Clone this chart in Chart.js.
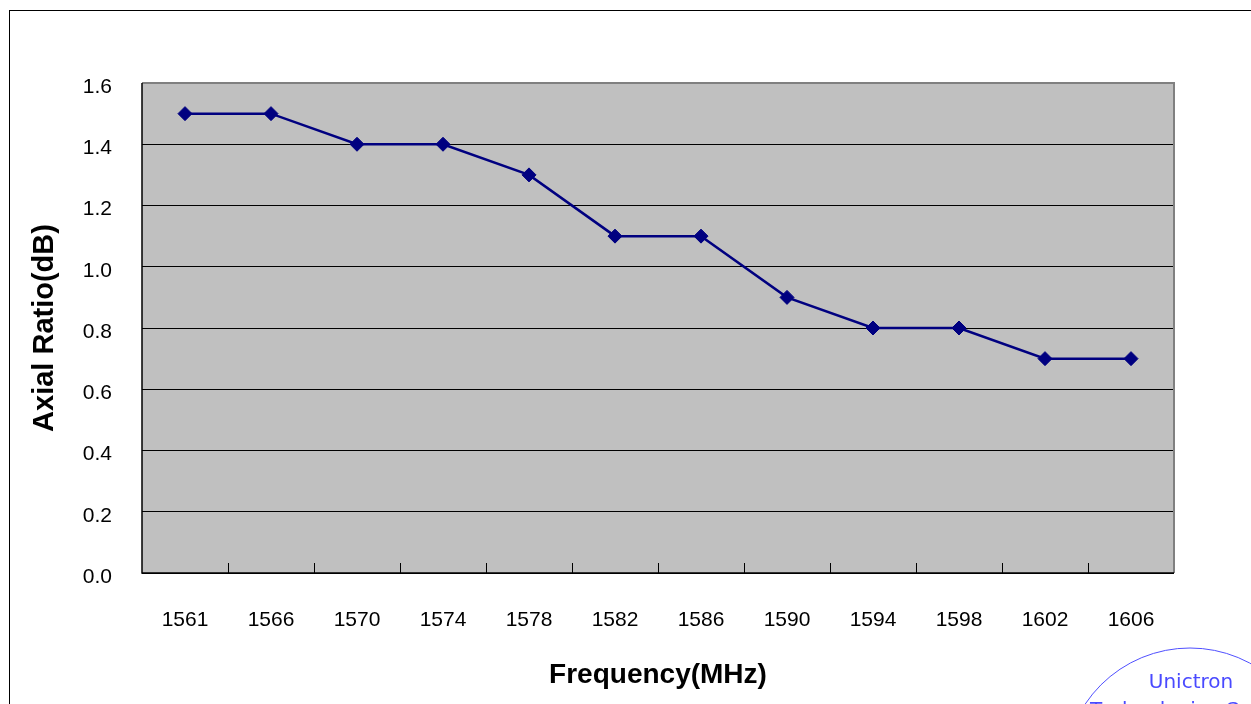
<!DOCTYPE html>
<html>
<head>
<meta charset="utf-8">
<script src="https://cdn.jsdelivr.net/npm/chart.js@4"></script>
<style>
  html, body { margin: 0; padding: 0; background: #fff; }
  #wrap { position: relative; width: 1251px; height: 704px; }
</style>
</head>
<body>
<div id="wrap"><canvas id="chart" width="1251" height="704"></canvas></div>
<script>
// data
const frequencies = ['1561', '1566', '1570', '1574', '1578', '1582', '1586', '1590', '1594', '1598', '1602', '1606'];
const axialRatio = [1.5, 1.5, 1.4, 1.4, 1.3, 1.1, 1.1, 0.9, 0.8, 0.8, 0.7, 0.7];
const yTicks = [0, 0.2, 0.4, 0.6, 0.8, 1.0, 1.2, 1.4, 1.6];

// excel-ish frame, grey plot area and inside tick marks
const excelLook = {
  id: 'excelLook',
  beforeDraw(chart) {
    const { ctx, chartArea: a } = chart;
    ctx.save();
    ctx.fillStyle = '#fff';
    ctx.fillRect(0, 0, chart.width, chart.height);
    ctx.strokeStyle = '#000';
    ctx.lineWidth = 1;
    ctx.strokeRect(9.5, 10.5, chart.width + 20, chart.height + 20);
    ctx.fillStyle = '#c0c0c0';
    ctx.fillRect(a.left, a.top, a.right - a.left, a.bottom - a.top);
    ctx.restore();
  },
  beforeDatasetsDraw(chart) {
    const { ctx, chartArea: a, scales } = chart;
    ctx.save();
    // grey top/right border
    ctx.strokeStyle = '#808080';
    ctx.lineWidth = 2;
    ctx.beginPath();
    ctx.moveTo(a.left, a.top);
    ctx.lineTo(a.right, a.top);
    ctx.lineTo(a.right, a.bottom);
    ctx.stroke();
    // axis lines
    ctx.strokeStyle = '#000';
    ctx.lineWidth = 1.5;
    ctx.beginPath();
    ctx.moveTo(a.left, a.top);
    ctx.lineTo(a.left, a.bottom);
    ctx.lineTo(a.right, a.bottom);
    ctx.stroke();
    // x tick marks between categories, pointing up
    const x = scales.x;
    ctx.lineWidth = 1;
    for (let i = 1; i < frequencies.length; i++) {
      const px = Math.round((x.getPixelForTick(i - 1) + x.getPixelForTick(i)) / 2) + 0.5;
      ctx.beginPath();
      ctx.moveTo(px, a.bottom);
      ctx.lineTo(px, a.bottom - 10);
      ctx.stroke();
    }
    ctx.restore();
  },
  afterDraw(chart) {
    const { ctx } = chart;
    ctx.save();
    ctx.strokeStyle = '#5050ff';
    ctx.lineWidth = 1;
    ctx.beginPath();
    ctx.arc(1190, 774, 126, 0, Math.PI * 2);
    ctx.stroke();
    ctx.fillStyle = '#4a4aff';
    ctx.font = '20px "DejaVu Sans"';
    ctx.textAlign = 'center';
    ctx.textBaseline = 'alphabetic';
    ctx.fillText('Unictron', 1191, 688);
    ctx.textAlign = 'left';
    ctx.fillText('Technologies Corp.', 1090, 716);
    ctx.restore();
  }
};

new Chart(document.getElementById('chart'), {
  type: 'line',
  data: {
    labels: frequencies,
    datasets: [{
      label: 'Axial Ratio',
      data: axialRatio,
      borderColor: '#000080',
      backgroundColor: '#000080',
      borderWidth: 2.5,
      pointStyle: 'rectRot',
      pointRadius: 7,
      pointBorderWidth: 1,
      tension: 0
    }]
  },
  options: {
    responsive: false,
    animation: false,
    devicePixelRatio: 1,
    layout: { padding: { top: 83, right: 77, left: 0, bottom: 0 } },
    plugins: {
      legend: { display: false },
      tooltip: { enabled: false }
    },
    scales: {
      x: {
        offset: true,
        afterFit(scale) { scale.height = 131; },
        grid: { display: false },
        border: { display: false },
        ticks: {
          color: '#000',
          padding: 27,
          maxRotation: 0,
          autoSkip: false,
          font: { family: '"Liberation Sans", Arial', size: 21 }
        },
        title: {
          display: true,
          text: 'Frequency(MHz)',
          color: '#000',
          padding: { top: 0, bottom: 12 },
          font: { family: '"Liberation Sans", Arial', size: 28, weight: 'bold' }
        }
      },
      y: {
        min: 0,
        max: 1.6,
        afterFit(scale) { scale.width = 142; },
        afterBuildTicks(scale) { scale.ticks = yTicks.map(v => ({ value: v })); },
        grid: { color: '#000', lineWidth: 1, drawTicks: false },
        border: { display: false },
        ticks: {
          color: '#000',
          padding: 30,
          labelOffset: 4,
          font: { family: '"Liberation Sans", Arial', size: 21 },
          callback: v => v.toFixed(1)
        },
        title: {
          display: true,
          text: 'Axial Ratio(dB)',
          color: '#000',
          padding: { top: 28, bottom: 0 },
          font: { family: '"Liberation Sans", Arial', size: 29, weight: 'bold' }
        }
      }
    }
  },
  plugins: [excelLook]
});
</script>
</body>
</html>
